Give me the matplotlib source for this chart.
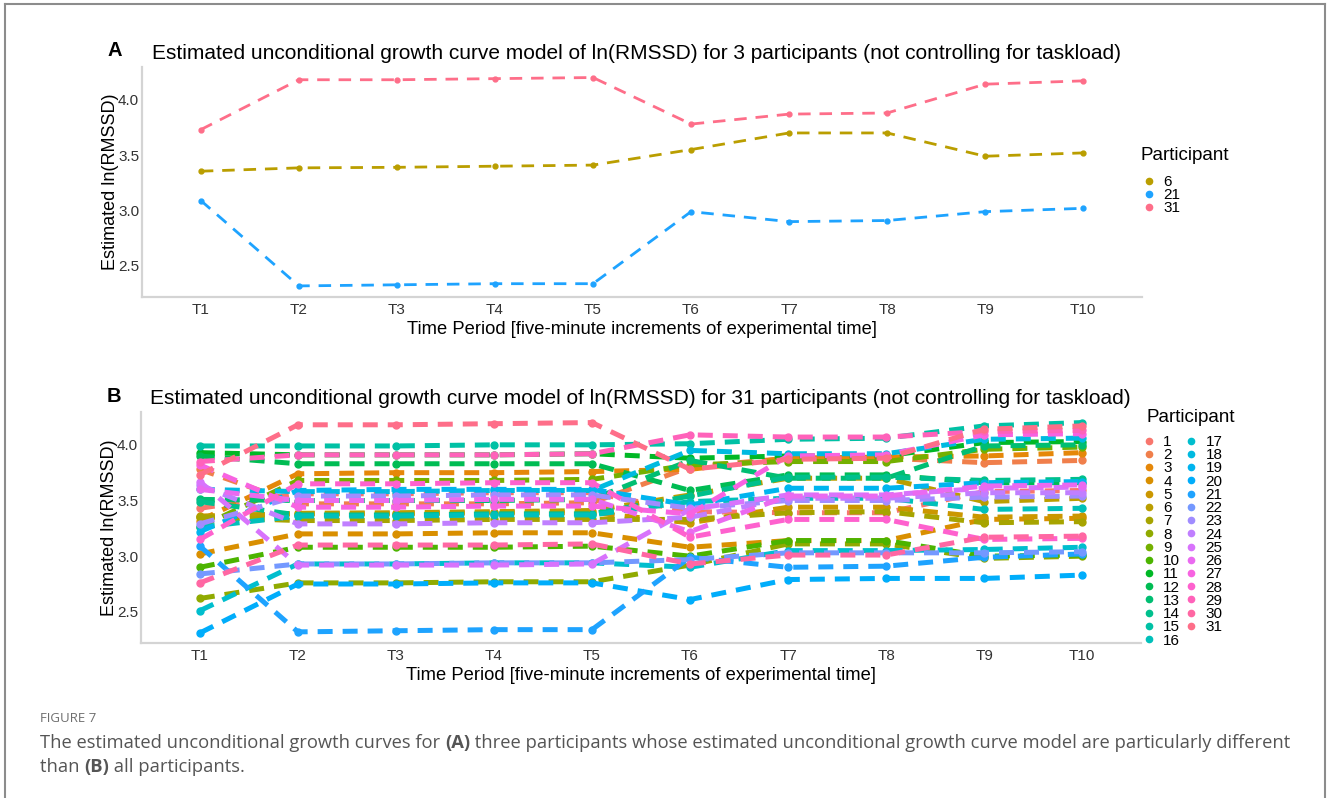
import numpy as np
import matplotlib
matplotlib.use("Agg")
from matplotlib import pyplot as plt
from matplotlib.lines import Line2D

periods = ["T1", "T2", "T3", "T4", "T5", "T6", "T7", "T8", "T9", "T10"]

# estimated ln(RMSSD) per participant, T1..T10
p1 = [3.43, 3.56, 3.56, 3.57, 3.57, 3.40, 3.39, 3.39, 3.58, 3.59]
p2 = [3.78, 3.47, 3.47, 3.47, 3.48, 3.80, 3.88, 3.88, 3.84, 3.86]
p3 = [3.32, 3.74, 3.75, 3.75, 3.76, 3.78, 3.88, 3.89, 3.90, 3.93]
p4 = [3.02, 3.20, 3.20, 3.21, 3.21, 3.08, 3.14, 3.14, 3.33, 3.34]
p5 = [3.36, 3.38, 3.38, 3.39, 3.39, 3.30, 3.44, 3.44, 3.35, 3.36]
p6 = [3.355, 3.385, 3.39, 3.40, 3.41, 3.55, 3.70, 3.70, 3.49, 3.52]
p7 = [3.35, 3.32, 3.32, 3.33, 3.33, 3.33, 3.39, 3.40, 3.30, 3.31]
p8 = [2.62, 2.76, 2.76, 2.77, 2.77, 2.92, 3.11, 3.11, 2.98, 3.00]
p9 = [3.26, 3.68, 3.68, 3.68, 3.69, 3.82, 3.85, 3.85, 3.96, 3.98]
p10 = [2.90, 3.08, 3.08, 3.08, 3.09, 3.00, 3.14, 3.14, 3.00, 3.01]
p11 = [3.93, 3.91, 3.91, 3.91, 3.92, 3.88, 3.90, 3.90, 4.02, 4.03]
p12 = [3.90, 3.83, 3.83, 3.83, 3.83, 3.59, 3.73, 3.73, 3.66, 3.66]
p13 = [3.51, 3.50, 3.50, 3.50, 3.51, 3.86, 3.70, 3.70, 3.99, 4.00]
p14 = [3.49, 3.37, 3.37, 3.38, 3.38, 3.54, 3.71, 3.71, 3.68, 3.69]
p15 = [3.99, 3.99, 3.99, 4.00, 4.00, 4.01, 4.05, 4.06, 4.17, 4.20]
p16 = [3.26, 3.36, 3.36, 3.37, 3.37, 3.49, 3.52, 3.52, 3.42, 3.43]
p17 = [2.51, 2.93, 2.93, 2.94, 2.94, 2.90, 3.05, 3.05, 3.06, 3.08]
p18 = [3.60, 3.58, 3.58, 3.59, 3.59, 3.95, 3.92, 3.92, 4.05, 4.06]
p19 = [3.22, 3.59, 3.60, 3.60, 3.60, 3.46, 3.61, 3.61, 3.66, 3.67]
p20 = [2.31, 2.75, 2.75, 2.76, 2.76, 2.61, 2.79, 2.80, 2.80, 2.83]
p21 = [3.09, 2.32, 2.33, 2.34, 2.34, 2.99, 2.90, 2.91, 2.99, 3.02]
p22 = [2.84, 2.93, 2.93, 2.94, 2.94, 2.97, 3.03, 3.03, 3.03, 3.04]
p23 = [3.29, 3.54, 3.54, 3.55, 3.55, 3.43, 3.50, 3.50, 3.53, 3.54]
p24 = [3.64, 3.29, 3.29, 3.30, 3.30, 3.35, 3.52, 3.52, 3.57, 3.57]
p25 = [3.67, 2.92, 2.92, 2.92, 2.93, 3.42, 3.55, 3.55, 3.61, 3.62]
p26 = [3.60, 3.50, 3.50, 3.51, 3.51, 3.22, 3.54, 3.54, 3.63, 3.64]
p27 = [3.82, 3.44, 3.44, 3.45, 3.45, 3.38, 3.90, 3.91, 4.09, 4.10]
p28 = [3.15, 3.65, 3.65, 3.66, 3.66, 3.17, 3.33, 3.33, 3.15, 3.16]
p29 = [3.85, 3.91, 3.91, 3.91, 3.92, 4.09, 4.07, 4.07, 4.12, 4.13]
p30 = [2.76, 3.10, 3.10, 3.10, 3.11, 2.93, 3.01, 3.01, 3.17, 3.18]
p31 = [3.73, 4.18, 4.18, 4.19, 4.20, 3.78, 3.87, 3.88, 4.14, 4.17]

all_participants = [p1, p2, p3, p4, p5, p6, p7, p8, p9, p10, p11, p12, p13, p14, p15, p16,
                    p17, p18, p19, p20, p21, p22, p23, p24, p25, p26, p27, p28, p29, p30, p31]
ids_all = [str(i) for i in range(1, 32)]
ids_a = ["6", "21", "31"]
series_a = [p6, p21, p31]


def hue_pal(n, c=100.0, l=65.0):
    # ggplot2 default discrete palette (hcl -> sRGB)
    hues = np.linspace(15, 375, n + 1)[:n]
    xn, yn, zn = 95.047, 100.0, 108.883
    un = 4 * xn / (xn + 15 * yn + 3 * zn)
    vn = 9 * yn / (xn + 15 * yn + 3 * zn)
    m = np.array([[3.2404542, -1.5371385, -0.4985314],
                  [-0.9692660, 1.8760108, 0.0415560],
                  [0.0556434, -0.2040259, 1.0572252]])
    out = []
    for h in hues:
        hr = np.deg2rad(h)
        U, V = c * np.cos(hr), c * np.sin(hr)
        Y = yn * ((l + 16) / 116) ** 3
        u = U / (13 * l) + un
        v = V / (13 * l) + vn
        X = 9.0 * Y * u / (4 * v)
        Z = -X / 3 - 5 * Y + 3 * Y / v
        rgb = m @ (np.array([X, Y, Z]) / 100.0)
        rgb = np.where(rgb <= 0.0031308, 12.92 * rgb, 1.055 * np.power(np.clip(rgb, 0, None), 1 / 2.4) - 0.055)
        out.append(tuple(np.clip(rgb, 0, 1)))
    return out


cols = hue_pal(31)
col_by_id = dict(zip(ids_all, cols))

plt.rcParams["font.family"] = ["Liberation Sans", "DejaVu Sans"]

fig = plt.figure(figsize=(13.28, 7.98), dpi=100)
W, H = 1328, 798


def fx(px):
    return px / W


def fy(py):
    return 1 - py / H


axA = fig.add_axes([fx(142), fy(297), fx(1142) - fx(142), fy(67) - fy(297)])
axB = fig.add_axes([fx(141), fy(643), fx(1141) - fx(141), fy(412) - fy(643)])

x = np.arange(len(periods))


def style_axis(ax):
    for s in ["top", "right"]:
        ax.spines[s].set_visible(False)
    for s in ["left", "bottom"]:
        ax.spines[s].set_color("#d4d4d4")
        ax.spines[s].set_linewidth(1.6)
    ax.set_xlim(-0.6, 9.6)
    ax.set_ylim(2.22, 4.295)
    ax.set_xticks(x)
    ax.set_xticklabels(periods)
    ax.set_yticks([2.5, 3.0, 3.5, 4.0])
    ax.set_yticklabels(["2.5", "3.0", "3.5", "4.0"])
    ax.tick_params(length=0, labelsize=11, colors="#333333")
    ax.tick_params(axis="x", pad=4)
    ax.tick_params(axis="y", pad=2)
    ax.set_xlabel("Time Period [five-minute increments of experimental time]", fontsize=13.2, labelpad=3)
    ax.set_ylabel("Estimated ln(RMSSD)", fontsize=13, labelpad=-1)


# panel A
for pid, vals in zip(ids_a, series_a):
    axA.plot(x, vals, color=col_by_id[pid], lw=2.0, dashes=(4.5, 3.2),
             marker="o", ms=3.5, label=pid)
style_axis(axA)
axA.set_title("Estimated unconditional growth curve model of ln(RMSSD) for 3 participants (not controlling for taskload)",
              fontsize=15, loc="left", pad=6, x=0.01)

# panel B
for pid, vals in zip(ids_all, all_participants):
    axB.plot(x, vals, color=col_by_id[pid], lw=3.6, dashes=(3.0, 2.0),
             marker="o", ms=5, label=pid)
style_axis(axB)
axB.set_title("Estimated unconditional growth curve model of ln(RMSSD) for 31 participants (not controlling for taskload)",
              fontsize=15, loc="left", pad=6, x=0.009)

fig.text(fx(107), fy(51), "A", fontsize=14.5, fontweight="bold", va="center")
fig.text(fx(107), fy(396), "B", fontsize=14.5, fontweight="bold", va="center")


def make_legend(ax, ids, title_xy, anchor, ncol):
    fig.text(fx(title_xy[0]), fy(title_xy[1]), "Participant", fontsize=13.5, va="center")
    handles = [Line2D([], [], ls="", marker="o", ms=4.5, color=col_by_id[i]) for i in ids]
    leg = ax.legend(handles, ids, loc="upper left",
                    bbox_to_anchor=anchor, bbox_transform=fig.transFigure,
                    frameon=False, ncol=ncol, fontsize=11,
                    handlelength=0.5, handletextpad=0.7, labelspacing=-0.05,
                    columnspacing=0.45, borderpad=0, borderaxespad=0)
    return leg


make_legend(axA, ids_a, (1140, 156), (fx(1145), fy(175)), 1)
make_legend(axB, ids_all, (1146, 417), (fx(1145), fy(435)), 2)

# outer frame
for xs, ys in [([5, 5], [4, 798]), ([5, 1325], [4, 4]), ([1325, 1325], [4, 798])]:
    fig.add_artist(Line2D([fx(v) for v in xs], [fy(v) for v in ys], color="#8c8c8c", lw=1.5))

# caption
cap_font = ["Open Sans", "DejaVu Sans"]
fig.text(fx(40), fy(718), "FIGURE 7", fontsize=9.5, color="#6e6e6e", family=cap_font, va="center")


def rich_line(parts, x0, y0):
    r = fig.canvas.get_renderer()
    xpos = fx(x0)
    for txt, bold in parts:
        t = fig.text(xpos, fy(y0), txt, fontsize=13.2, color="#555555", family=cap_font,
                     fontweight="bold" if bold else "normal", va="center")
        bb = t.get_window_extent(renderer=r)
        xpos += bb.width / W


rich_line([("The estimated unconditional growth curves for ", False), ("(A)", True),
           (" three participants whose estimated unconditional growth curve model are particularly different", False)],
          40, 743)
rich_line([("than ", False), ("(B)", True), (" all participants.", False)], 40, 767)

fig.savefig("out.png", dpi=100)
